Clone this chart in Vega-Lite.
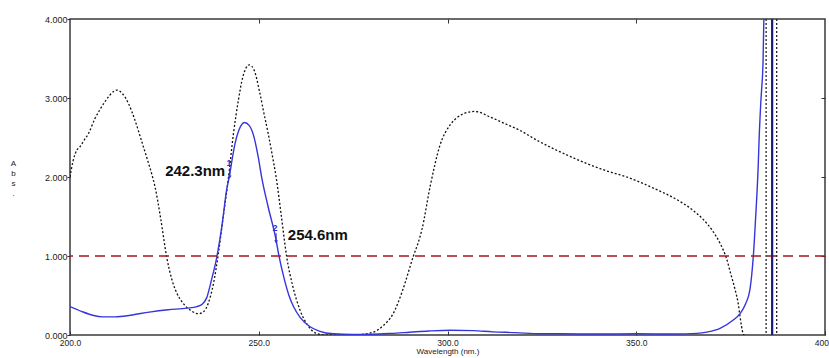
{
  "$schema": "https://vega.github.io/schema/vega-lite/v6.json",
  "width": 755,
  "height": 316,
  "autosize": {"type": "none"},
  "padding": {"left": 70, "top": 19, "right": 4, "bottom": 23},
  "background": "white",
  "config": {
    "view": {"stroke": "#3a3a3a", "strokeWidth": 1.5},
    "axis": {"labelFont": "Liberation Sans Narrow, Liberation Sans, Arial", "titleFont": "Liberation Sans Narrow, Liberation Sans, Arial", "labelColor": "#222", "titleColor": "#222", "tickColor": "#333", "domain": false, "grid": false}
  },
  "datasets": {
    "sample": [
      {"wl":200,"abs":0.36},{"wl":203,"abs":0.30},{"wl":206,"abs":0.25},{"wl":208.7,"abs":0.23},{"wl":212,"abs":0.23},{"wl":216,"abs":0.25},{"wl":221,"abs":0.29},{"wl":226,"abs":0.32},{"wl":231,"abs":0.34},{"wl":233.6,"abs":0.36},{"wl":235,"abs":0.39},{"wl":236.2,"abs":0.47},{"wl":237.5,"abs":0.70},{"wl":238.9,"abs":0.99},{"wl":240.3,"abs":1.40},{"wl":241.5,"abs":1.84},{"wl":242.3,"abs":2.03},{"wl":242.8,"abs":2.18},{"wl":243.7,"abs":2.42},{"wl":244.8,"abs":2.60},{"wl":246.2,"abs":2.69},{"wl":247.5,"abs":2.65},{"wl":248.6,"abs":2.53},{"wl":249.8,"abs":2.27},{"wl":250.8,"abs":1.99},{"wl":252.5,"abs":1.62},{"wl":254.6,"abs":1.20},{"wl":255.2,"abs":1.04},{"wl":256.8,"abs":0.70},{"wl":258,"abs":0.50},{"wl":259.2,"abs":0.36},{"wl":261,"abs":0.22},{"wl":263.6,"abs":0.105},{"wl":266,"abs":0.05},{"wl":269.8,"abs":0.015},{"wl":275,"abs":0.008},{"wl":280,"abs":0.01},{"wl":285,"abs":0.02},{"wl":290,"abs":0.035},{"wl":295,"abs":0.05},{"wl":300.7,"abs":0.06},{"wl":306.8,"abs":0.055},{"wl":312,"abs":0.04},{"wl":318,"abs":0.03},{"wl":324.5,"abs":0.015},{"wl":330,"abs":0.015},{"wl":340,"abs":0.012},{"wl":350,"abs":0.015},{"wl":360,"abs":0.012},{"wl":366,"abs":0.02},{"wl":369,"abs":0.04},{"wl":372.2,"abs":0.085},{"wl":375.7,"abs":0.19},{"wl":377.5,"abs":0.27},{"wl":379,"abs":0.40},{"wl":380.1,"abs":0.57},{"wl":381,"abs":0.99},{"wl":381.7,"abs":1.55},{"wl":382.3,"abs":2.13},{"wl":382.6,"abs":2.55},{"wl":382.8,"abs":2.76},{"wl":383.0,"abs":2.95},{"wl":383.2,"abs":3.10},{"wl":383.6,"abs":3.48},{"wl":383.8,"abs":4.0}
    ],
    "reference": [
      {"wl":200,"abs":2.0},{"wl":200.8,"abs":2.2},{"wl":201.8,"abs":2.34},{"wl":202.6,"abs":2.38},{"wl":203.8,"abs":2.47},{"wl":204.9,"abs":2.55},{"wl":206.6,"abs":2.74},{"wl":207.9,"abs":2.85},{"wl":209.5,"abs":2.97},{"wl":211.5,"abs":3.08},{"wl":212.4,"abs":3.10},{"wl":213.8,"abs":3.06},{"wl":215.5,"abs":2.93},{"wl":217.2,"abs":2.72},{"wl":219,"abs":2.45},{"wl":220.5,"abs":2.22},{"wl":221.7,"abs":2.03},{"wl":222.5,"abs":1.88},{"wl":224,"abs":1.48},{"wl":225.6,"abs":0.99},{"wl":227,"abs":0.70},{"wl":228.3,"abs":0.53},{"wl":230,"abs":0.40},{"wl":232,"abs":0.31},{"wl":234,"abs":0.27},{"wl":235.5,"abs":0.30},{"wl":236.6,"abs":0.40},{"wl":238,"abs":0.65},{"wl":239.3,"abs":1.03},{"wl":240.6,"abs":1.50},{"wl":241.9,"abs":1.96},{"wl":243.3,"abs":2.55},{"wl":244.6,"abs":2.97},{"wl":245.8,"abs":3.27},{"wl":247.5,"abs":3.42},{"wl":248.8,"abs":3.35},{"wl":250.3,"abs":3.06},{"wl":251.4,"abs":2.80},{"wl":252.5,"abs":2.55},{"wl":253.6,"abs":2.27},{"wl":254.6,"abs":2.0},{"wl":256,"abs":1.50},{"wl":257.4,"abs":0.99},{"wl":259,"abs":0.62},{"wl":260.9,"abs":0.32},{"wl":263,"abs":0.12},{"wl":265.3,"abs":0.02},{"wl":268,"abs":0.0},{"wl":275,"abs":0.0},{"wl":280,"abs":0.03},{"wl":283,"abs":0.12},{"wl":285.6,"abs":0.27},{"wl":288,"abs":0.55},{"wl":290.9,"abs":0.99},{"wl":292.7,"abs":1.24},{"wl":293.2,"abs":1.33},{"wl":295.4,"abs":1.88},{"wl":298,"abs":2.40},{"wl":300.7,"abs":2.66},{"wl":302.5,"abs":2.75},{"wl":304.2,"abs":2.80},{"wl":307.3,"abs":2.83},{"wl":311.3,"abs":2.76},{"wl":315,"abs":2.68},{"wl":319.2,"abs":2.59},{"wl":323.5,"abs":2.47},{"wl":328,"abs":2.36},{"wl":332.5,"abs":2.26},{"wl":336.9,"abs":2.17},{"wl":342,"abs":2.08},{"wl":347.5,"abs":2.0},{"wl":354.5,"abs":1.86},{"wl":361.6,"abs":1.69},{"wl":365,"abs":1.58},{"wl":367.8,"abs":1.46},{"wl":370.2,"abs":1.32},{"wl":372.2,"abs":1.16},{"wl":373.9,"abs":0.97},{"wl":375,"abs":0.78},{"wl":376.2,"abs":0.57},{"wl":377,"abs":0.40},{"wl":377.5,"abs":0.23},{"wl":378.3,"abs":0.02},{"wl":378.6,"abs":0}
    ]
  },
  "resolve": {"axis": {"x": "independent", "y": "independent"}},
  "layer": [
    {
      "data": {"name": "reference"},
      "mark": {"type": "line", "color": "#111", "strokeWidth": 1.3, "strokeDash": [2, 2], "clip": true, "interpolate": "monotone"},
      "encoding": {
        "x": {"field": "wl", "type": "quantitative", "scale": {"domain": [200, 400], "nice": false, "zero": false},
          "axis": {"orient": "bottom", "values": [200, 250, 300, 350, 400], "format": ".1f", "tickSize": -4, "labelPadding": 7, "labelFontSize": 8.5, "labelFlush": false, "title": "Wavelength (nm.)", "titleFontSize": 8, "titleFontWeight": "normal", "titlePadding": 1}},
        "y": {"field": "abs", "type": "quantitative", "scale": {"domain": [0, 4], "nice": false},
          "axis": {"orient": "left", "values": [0, 1, 2, 3, 4], "format": ".3f", "tickSize": 3, "labelPadding": 0, "labelFontSize": 9, "title": ["A", "b", "s", "."], "titleAngle": 0, "titleFontSize": 8, "titleFontWeight": "normal", "titleLineHeight": 10, "titleX": -57, "titleY": 140, "titleAlign": "center", "titleBaseline": "top"}}
      }
    },
    {
      "data": {"name": "sample"},
      "mark": {"type": "line", "color": "#3535dc", "strokeWidth": 1.4, "clip": true, "interpolate": "monotone"},
      "encoding": {
        "x": {"field": "wl", "type": "quantitative", "scale": {"domain": [200, 400], "nice": false, "zero": false},
          "axis": {"orient": "top", "values": [250, 300, 350], "labels": false, "tickSize": -4, "title": null}},
        "y": {"field": "abs", "type": "quantitative", "scale": {"domain": [0, 4], "nice": false},
          "axis": {"orient": "right", "values": [1, 2, 3], "labels": false, "tickSize": -4, "title": null}}
      }
    },
    {
      "data": {"values": [{"abs": 1.0}]},
      "mark": {"type": "rule", "color": "#a8161c", "strokeWidth": 1.3, "strokeDash": [10, 6]},
      "encoding": {"y": {"field": "abs", "type": "quantitative", "axis": null}}
    },
    {
      "data": {"values": [{"wl": 384.4}, {"wl": 387.2}]},
      "mark": {"type": "rule", "color": "#222", "strokeWidth": 1.3, "strokeDash": [2, 2]},
      "encoding": {"x": {"field": "wl", "type": "quantitative", "axis": null}}
    },
    {
      "data": {"values": [{"wl": 386.0}]},
      "mark": {"type": "rule", "color": "#1a1a7a", "strokeWidth": 2.2},
      "encoding": {"x": {"field": "wl", "type": "quantitative", "axis": null}}
    },
    {
      "data": {"values": [{"wl": 225.2, "abs": 2.08, "label": "242.3nm"}, {"wl": 257.7, "abs": 1.266, "label": "254.6nm"}]},
      "mark": {"type": "text", "align": "left", "baseline": "middle", "font": "Liberation Sans, Arial", "fontWeight": "bold", "fontSize": 15, "color": "#111"},
      "encoding": {
        "x": {"field": "wl", "type": "quantitative", "axis": null},
        "y": {"field": "abs", "type": "quantitative", "axis": null},
        "text": {"field": "label"}
      }
    },
    {
      "data": {"values": [{"wl": 242.1, "abs": 2.18, "label": "1"}, {"wl": 254.3, "abs": 1.36, "label": "2"}]},
      "mark": {"type": "text", "align": "center", "baseline": "middle", "font": "Liberation Sans, Arial", "fontWeight": "bold", "fontSize": 9, "color": "#3030d0"},
      "encoding": {
        "x": {"field": "wl", "type": "quantitative", "axis": null},
        "y": {"field": "abs", "type": "quantitative", "axis": null},
        "text": {"field": "label"}
      }
    },
    {
      "data": {"values": [{"wl": 242.3, "top": 2.11, "bot": 2.0}, {"wl": 254.6, "top": 1.29, "bot": 1.18}]},
      "mark": {"type": "rule", "color": "#3030d0", "strokeWidth": 1},
      "encoding": {
        "x": {"field": "wl", "type": "quantitative", "axis": null},
        "y": {"field": "top", "type": "quantitative", "axis": null},
        "y2": {"field": "bot"}
      }
    },
    {
      "data": {"values": [{"wl": 242.3, "abs": 2.0}, {"wl": 254.6, "abs": 1.18}]},
      "mark": {"type": "point", "shape": "triangle-down", "filled": true, "size": 14, "color": "#3030d0", "opacity": 1},
      "encoding": {
        "x": {"field": "wl", "type": "quantitative", "axis": null},
        "y": {"field": "abs", "type": "quantitative", "axis": null}
      }
    }
  ]
}
